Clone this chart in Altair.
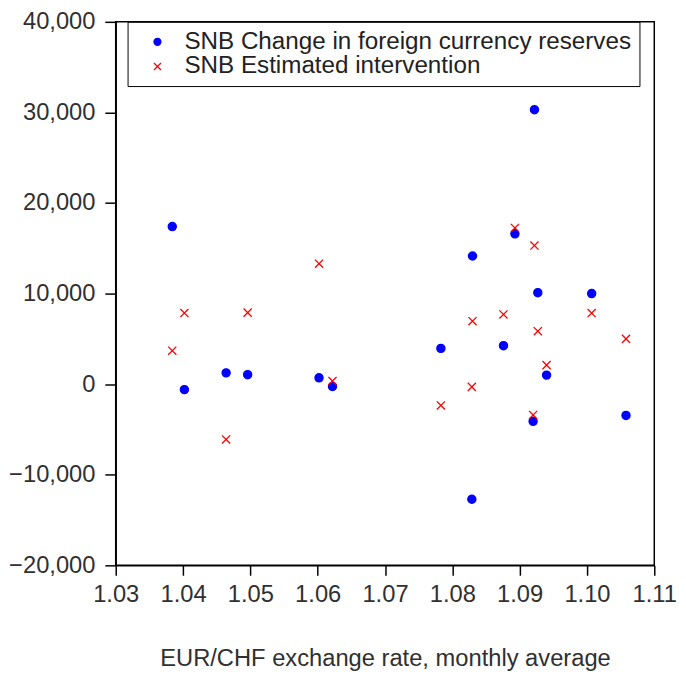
import altair as alt
import pandas as pd

# EUR/CHF monthly average exchange rate (x) for each month
eurchf = [1.0384, 1.0402, 1.0464, 1.0496, 1.0602, 1.0622, 1.0783, 1.0829, 1.0830,
          1.0876, 1.0893, 1.0920, 1.0922, 1.0927, 1.0940, 1.1007, 1.1058]
# SNB change in foreign currency reserves (CHF mn)
reserves = [17400, -600, 1250, 1050, 700, -250, 3950, -12700, 14150,
            4250, 16600, -4100, 30300, 10100, 1000, 10000, -3450]
# SNB estimated intervention (CHF mn)
intervention = [3700, 7850, -6100, 7900, 13300, 350, -2350, -300, 6950,
                7700, 17250, -3400, 15300, 5850, 2100, 7850, 5000]

series_names = ["SNB Change in foreign currency reserves", "SNB Estimated intervention"]
x_ticks = [1.03, 1.04, 1.05, 1.06, 1.07, 1.08, 1.09, 1.10, 1.11]
y_ticks = [-20000, -10000, 0, 10000, 20000, 30000, 40000]

rows = []
for xv, v in zip(eurchf, reserves):
    rows.append({"rate": xv, "value": v, "series": series_names[0]})
for xv, v in zip(eurchf, intervention):
    rows.append({"rate": xv, "value": v, "series": series_names[1]})
df = pd.DataFrame(rows)

FONT = "Liberation Sans"
TXT = "#303030"
cross_path = "M-1,-1L1,1M-1,1L1,-1"

chart = alt.Chart(df).mark_point(size=68, strokeWidth=1.3, opacity=1).encode(
    x=alt.X("rate:Q",
            scale=alt.Scale(domain=[1.03, 1.11], nice=False, zero=False),
            axis=alt.Axis(values=x_ticks, format=".2f",
                          title="EUR/CHF exchange rate, monthly average")),
    y=alt.Y("value:Q",
            scale=alt.Scale(domain=[-20000, 40000], nice=False),
            axis=alt.Axis(values=y_ticks, format=",.0f", title=None)),
    shape=alt.Shape("series:N",
                    scale=alt.Scale(domain=series_names, range=["circle", cross_path]),
                    legend=alt.Legend(title=None)),
    fill=alt.Fill("series:N",
                  scale=alt.Scale(domain=series_names, range=["#0000ff", "transparent"]),
                  legend=alt.Legend(title=None)),
    stroke=alt.Stroke("series:N",
                      scale=alt.Scale(domain=series_names, range=["#0000ff", "#ff0000"]),
                      legend=alt.Legend(title=None)),
).properties(
    width=545,
    height=550,
    autosize=alt.AutoSizeParams(type="none"),
    padding={"left": 109, "top": 10, "right": 24, "bottom": 110},
).configure_view(
    stroke="black", strokeWidth=1.5
).configure_axis(
    grid=False,
    domainColor="black", domainWidth=1.5,
    tickColor="black", tickWidth=1.5,
    labelFont=FONT, labelFontSize=24, labelColor=TXT,
    titleFont=FONT, titleFontSize=24, titleColor=TXT, titleFontWeight="normal",
    labelOverlap=False, labelBound=False, labelFlush=False,
).configure_axisX(
    tickSize=10, labelPadding=8, titlePadding=40,
).configure_axisY(
    tickSize=11, labelPadding=10,
).configure_legend(
    orient="none", legendX=12, legendY=0,
    strokeColor="black", fillColor="white", padding=8,
    labelFont=FONT, labelFontSize=24.5, labelColor="#222", labelLimit=0,
    symbolSize=50, symbolStrokeWidth=1.3, symbolOffset=10, labelOffset=15,
    rowPadding=0,
)

chart.save("out.html", embed_options={"renderer": "svg", "actions": False})
